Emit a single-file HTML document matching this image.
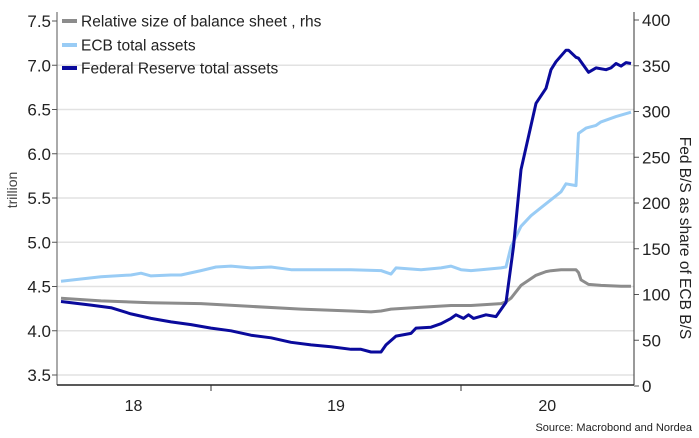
<!DOCTYPE html>
<html><head><meta charset="utf-8"><style>
body{margin:0;background:#fff;}
svg{display:block;font-family:"Liberation Sans",sans-serif;}
</style></head><body>
<svg id="chart" width="699" height="438" viewBox="0 0 699 438" xmlns="http://www.w3.org/2000/svg">
<g id="grid"></g><g id="axes"></g><g id="series"></g>
<g id="legend">
  <g><line x1="62" y1="21" x2="77" y2="21" stroke="#8c8c8c" stroke-width="4"/><text x="81" y="26.5" font-size="15.5" fill="#222">Relative size of balance sheet , rhs</text></g>
  <g><line x1="62" y1="45" x2="77" y2="45" stroke="#99ccf5" stroke-width="4"/><text x="81" y="50.5" font-size="15.5" fill="#222">ECB total assets</text></g>
  <g><line x1="62" y1="68" x2="77" y2="68" stroke="#0a0a9c" stroke-width="4"/><text x="81" y="73.5" font-size="15.5" fill="#222">Federal Reserve total assets</text></g>
</g>
<text transform="translate(17,190) rotate(-90)" text-anchor="middle" font-size="14" fill="#444">trillion</text>
<text transform="translate(680,238) rotate(90)" text-anchor="middle" font-size="15.5" fill="#222">Fed B/S as share of ECB B/S</text>
<text x="692" y="431" text-anchor="end" font-size="11" fill="#222">Source: Macrobond and Nordea</text>
</svg>
<script>
const leftTicks=[3.5,4.0,4.5,5.0,5.5,6.0,6.5,7.0,7.5];
const rightTicks=[0,50,100,150,200,250,300,350,400];
const yearTicks=[2019,2020];
const yearLabels=["18","19","20"];
const yearLabelPos=[2018.69,2019.5,2020.345];
const fedDates=[2018.40,2018.52,2018.60,2018.68,2018.76,2018.84,2018.92,2019.00,2019.08,2019.16,2019.24,2019.32,2019.40,2019.48,2019.56,2019.60,2019.64,2019.68,2019.70,2019.74,2019.80,2019.82,2019.88,2019.92,2019.96,2019.98,2020.01,2020.03,2020.05,2020.10,2020.14,2020.18,2020.21,2020.24,2020.30,2020.34,2020.36,2020.38,2020.42,2020.43,2020.46,2020.47,2020.51,2020.54,2020.58,2020.60,2020.62,2020.64,2020.66,2020.68];
const fedValues=[4.33,4.29,4.26,4.19,4.14,4.10,4.07,4.03,4.00,3.95,3.92,3.87,3.84,3.82,3.79,3.79,3.76,3.76,3.84,3.94,3.97,4.03,4.04,4.08,4.14,4.18,4.14,4.18,4.14,4.18,4.16,4.32,4.95,5.82,6.57,6.74,6.95,7.04,7.17,7.17,7.09,7.08,6.92,6.97,6.95,6.97,7.02,6.99,7.03,7.02];
const ecbDates=[2018.40,2018.56,2018.68,2018.72,2018.76,2018.84,2018.88,2018.96,2019.02,2019.08,2019.16,2019.24,2019.32,2019.48,2019.56,2019.68,2019.72,2019.74,2019.84,2019.92,2019.96,2020.00,2020.04,2020.08,2020.16,2020.18,2020.20,2020.24,2020.28,2020.32,2020.40,2020.42,2020.46,2020.47,2020.50,2020.54,2020.56,2020.62,2020.68];
const ecbValues=[4.56,4.61,4.63,4.65,4.62,4.63,4.63,4.68,4.72,4.73,4.71,4.72,4.69,4.69,4.69,4.68,4.64,4.71,4.69,4.71,4.73,4.69,4.68,4.69,4.71,4.72,4.95,5.18,5.30,5.39,5.57,5.66,5.64,6.23,6.29,6.32,6.36,6.42,6.47];
const relDates=[2018.40,2018.56,2018.76,2018.96,2019.16,2019.36,2019.56,2019.64,2019.68,2019.72,2019.84,2019.96,2020.04,2020.16,2020.18,2020.20,2020.24,2020.30,2020.34,2020.36,2020.40,2020.46,2020.47,2020.48,2020.51,2020.56,2020.64,2020.68];
const relValues=[96,93,91,90,87,84,82,81,82,84,86,88,88,90,92,96,110,121,125,126,127,127,124,116,111,110,109,109];

const NS="http://www.w3.org/2000/svg";
const X0=57,X1=634,Y0=385;
const xS=t=>211+(t-2019)*250;
const yL=v=>21+(7.5-v)*88.5;
const yR=v=>386-v*366/400;
function mk(tag,attrs,parent){const e=document.createElementNS(NS,tag);for(const k in attrs)e.setAttribute(k,attrs[k]);parent.appendChild(e);return e;}
const grid=document.getElementById('grid'),axes=document.getElementById('axes'),ser=document.getElementById('series');
leftTicks.forEach(v=>{
  const y=yL(v);
  if(v<7.5){const g=mk('line',{x1:X0,x2:X1,y1:y,y2:y,stroke:'#e2e2e2','stroke-width':1.5},grid);
  
  }
  const t=mk('line',{x1:X0-5,x2:X0,y1:y,y2:y,stroke:'#555','stroke-width':1},axes);
  
  
  const l=mk('text',{x:X0-6,y:y+6,'text-anchor':'end','font-size':17,fill:'#222'},axes);
  
  
  l.textContent=v.toFixed(1);
});
rightTicks.forEach(v=>{
  const y=yR(v);
  const t=mk('line',{x1:X1,x2:X1+5,y1:y,y2:y,stroke:'#555','stroke-width':1},axes);
  
  
  const l=mk('text',{x:X1+8,y:y+6,'font-size':17,fill:'#222'},axes);
  
  
  l.textContent=v;
});
yearTicks.forEach(t0=>{const x=xS(t0);const t=mk('line',{x1:x,x2:x,y1:Y0,y2:Y0+6,stroke:'#333','stroke-width':1},axes);
  
  });
yearLabels.forEach((s,i)=>{const l=mk('text',{x:xS(yearLabelPos[i]),y:411,'text-anchor':'middle','font-size':16,fill:'#222'},axes);
  
  
  l.textContent=s;});
const la=mk('line',{x1:X0,x2:X0,y1:12,y2:Y0,stroke:'#555','stroke-width':1},axes);


const ra=mk('line',{x1:X1,x2:X1,y1:12,y2:Y0,stroke:'#333','stroke-width':1},axes);


const xa=mk('line',{x1:X0,x2:X1,y1:Y0,y2:Y0,stroke:'#222','stroke-width':1.5},axes);


function line(d,v,ys,color,name){
  const p=d.map((t,i)=>xS(t).toFixed(1)+','+ys(v[i]).toFixed(1)).join(' ');
  const e=mk('polyline',{points:p,fill:'none',stroke:color,'stroke-width':3,'stroke-linejoin':'round'},ser);
  
  
}
line(relDates,relValues,yR,'#8c8c8c','relative-size-line');
line(ecbDates,ecbValues,yL,'#99ccf5','ecb-total-assets-line');
line(fedDates,fedValues,yL,'#0a0a9c','fed-total-assets-line');
</script>
</body></html>
